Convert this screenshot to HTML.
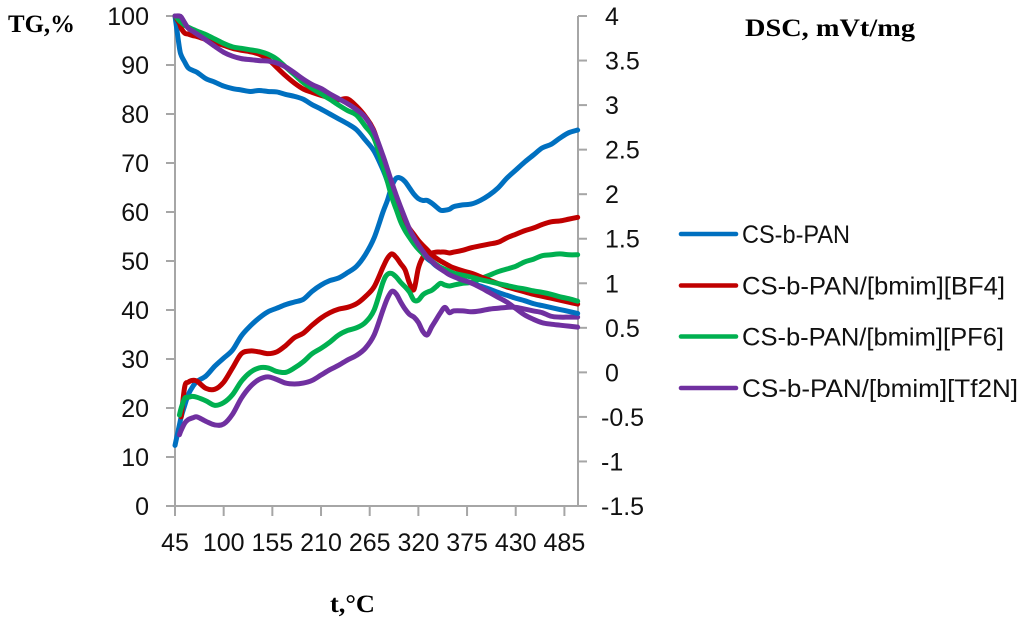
<!DOCTYPE html>
<html>
<head>
<meta charset="utf-8">
<style>
html,body{margin:0;padding:0;background:#fff;}
svg{display:block;}
.tick{font-family:"Liberation Sans",sans-serif;font-size:25px;fill:#111;}
.title{font-family:"Liberation Serif",serif;font-size:25px;font-weight:bold;fill:#000;}
.leg{font-family:"Liberation Sans",sans-serif;font-size:25px;fill:#111;}
</style>
</head>
<body>
<svg id="chart" width="1024" height="623" viewBox="0 0 1024 623" xmlns="http://www.w3.org/2000/svg">
  <text class="title" x="8" y="32" textLength="67" lengthAdjust="spacingAndGlyphs">TG,%</text>
  <text class="title" x="745" y="36" textLength="170" lengthAdjust="spacingAndGlyphs">DSC, mVt/mg</text>
  <text class="title" x="330" y="612" textLength="45" lengthAdjust="spacingAndGlyphs">t,°C</text>
  <g id="axes"></g>
  <g id="series"></g>
  <g id="legend"></g>
</svg>
<script>
const temperatures = [45,50,52,56,60,65,70,80,90,100,110,120,130,140,150,160,170,180,190,200,210,220,230,240,250,260,270,280,285,290,295,300,305,310,315,320,325,330,335,340,345,350,355,360,370,380,390,400,410,420,430,440,450,460,470,480,490,500];
const xTickLabels = [45,100,155,210,265,320,375,430,485];
const tgTickLabels = [0,10,20,30,40,50,60,70,80,90,100];
const dscTickLabels = [-1.5,-1,-0.5,0,0.5,1,1.5,2,2.5,3,3.5,4];
const seriesNames = ["CS-b-PAN","CS-b-PAN/[bmim][BF4]","CS-b-PAN/[bmim][PF6]","CS-b-PAN/[bmim][Tf2N]"];

const tgBlue = [100,93.5,92,90.6,89.4,88.9,88.5,87.2,86.5,85.7,85.2,84.9,84.6,84.8,84.6,84.5,84,83.6,83,81.9,81,80,79,78,76.8,74.7,72.4,68.6,66.3,64,62,60,58.2,56.4,54.8,53,51.6,50.5,49.8,49,48.4,47.9,47.4,47,46.2,45.5,44.9,44.3,43.6,43,42.4,41.9,41.3,40.9,40.5,40.1,39.7,39.3];
const tgRed = [100,98.5,97.5,96.5,96.3,96,95.8,95.2,94.6,94,93.4,93,92.7,92.2,91.2,89.5,87.8,86.3,85.1,84.4,83.8,83.3,82.9,83.1,81.6,79.5,76.5,70.5,67,64,62,59.6,58,56.6,55.4,54.2,53.2,52.3,51.3,50.6,50,49.5,49,48.6,48,47.5,46.8,46.1,45.4,44.7,44.2,43.7,43.2,42.8,42.4,42,41.6,41.2];
const tgGreen = [100,99,98.7,98.1,97.7,97.3,96.9,96.2,95.3,94.4,93.7,93.4,93.1,92.8,92.2,91.2,89.6,88,86.4,85.2,84.1,83,81.8,80.7,79.8,77.5,75,69.3,66.2,63,60.5,58,56.2,54.8,53.5,52.4,51.5,50.7,50,49.3,48.7,48.3,47.9,47.5,47.1,46.7,46.2,45.8,45.4,45,44.6,44.3,43.9,43.6,43.2,42.7,42.3,41.8];
const tgPurple = [100,100,99.8,98.6,97.5,96.9,96.3,95.1,93.8,92.6,91.8,91.3,91.1,90.9,90.8,90.4,89.6,88.4,87.1,86,85.2,84.1,83.1,82.1,80.9,79.3,76.3,71.5,68.8,66,63.4,61,58.7,56.5,54.8,53.3,52,50.8,50,49.1,48.4,47.8,47.2,46.8,46.1,45.5,44.6,43.6,42.6,41.6,40.3,39,38.1,37.4,37.1,36.9,36.7,36.5];

const dscBlue = [-0.82,-0.59,-0.50,-0.37,-0.25,-0.16,-0.10,-0.04,0.07,0.16,0.25,0.41,0.52,0.61,0.68,0.72,0.76,0.79,0.82,0.91,0.98,1.03,1.06,1.12,1.19,1.32,1.51,1.80,1.93,2.09,2.18,2.18,2.14,2.07,2.00,1.95,1.93,1.93,1.90,1.86,1.82,1.82,1.83,1.86,1.88,1.89,1.93,1.99,2.07,2.18,2.27,2.36,2.44,2.52,2.56,2.63,2.69,2.72];
const dscRed = [null,null,-0.50,-0.16,-0.11,-0.09,-0.10,-0.18,-0.19,-0.11,0.05,0.21,0.24,0.23,0.21,0.23,0.30,0.39,0.44,0.53,0.61,0.67,0.71,0.73,0.77,0.85,0.96,1.18,1.28,1.33,1.29,1.22,1.15,1.00,0.93,1.17,1.29,1.33,1.34,1.35,1.35,1.35,1.34,1.35,1.37,1.40,1.42,1.44,1.46,1.51,1.55,1.59,1.62,1.66,1.69,1.70,1.72,1.74];
const dscGreen = [null,-0.48,-0.40,-0.29,-0.28,-0.27,-0.28,-0.32,-0.37,-0.34,-0.25,-0.10,0.00,0.05,0.05,0.01,0.00,0.05,0.12,0.21,0.27,0.34,0.42,0.47,0.50,0.56,0.70,1.01,1.10,1.11,1.07,1.01,0.96,0.90,0.81,0.81,0.87,0.90,0.92,0.96,1.00,0.98,0.97,0.98,1.00,1.01,1.05,1.09,1.13,1.16,1.19,1.24,1.27,1.31,1.32,1.33,1.32,1.32];
const dscPurple = [null,-0.70,-0.65,-0.57,-0.53,-0.51,-0.50,-0.55,-0.59,-0.58,-0.47,-0.29,-0.16,-0.08,-0.05,-0.08,-0.12,-0.13,-0.12,-0.09,-0.03,0.03,0.08,0.14,0.19,0.27,0.42,0.70,0.83,0.91,0.88,0.79,0.71,0.65,0.62,0.56,0.46,0.42,0.51,0.59,0.67,0.73,0.67,0.69,0.69,0.68,0.69,0.71,0.72,0.73,0.73,0.71,0.69,0.67,0.63,0.62,0.62,0.62];

const NS = "http://www.w3.org/2000/svg";
const axisColor = "#a6a6a6";
const colorBlue = "#0070c0", colorRed = "#c00000", colorGreen = "#00b050", colorPurple = "#7030a0";
const colors = [colorBlue, colorRed, colorGreen, colorPurple];

function xScale(t){ return 175 + (t - 45) * 0.885; }
function tgScale(v){ return 506 - v * 4.9; }
function dscScale(v){ return 506 - (v + 1.5) * 89.09; }

function mk(tag, attrs, parent){
  const el = document.createElementNS(NS, tag);
  for (const k in attrs) el.setAttribute(k, attrs[k]);
  parent.appendChild(el);
  return el;
}

const axes = document.getElementById("axes");
const seriesG = document.getElementById("series");
const legend = document.getElementById("legend");
const axisStyle = {stroke: axisColor, "stroke-width": 2, fill: "none"};

const leftAxis = mk("line", Object.assign({x1:175, y1:tgScale(100), x2:175, y2:tgScale(0)}, axisStyle), axes);


const rightAxis = mk("line", Object.assign({x1:578, y1:dscScale(4), x2:578, y2:dscScale(-1.5)}, axisStyle), axes);


const bottomAxis = mk("line", Object.assign({x1:175, y1:506, x2:578, y2:506}, axisStyle), axes);



tgTickLabels.forEach(function(v){
  const y = tgScale(v);
  const tick = mk("line", Object.assign({x1:166, y1:y, x2:175, y2:y}, axisStyle), axes);
  
  
  const label = mk("text", {class:"tick", x:149, y:y + 9, "text-anchor":"end"}, axes);
  
  
  label.textContent = v;
});

dscTickLabels.forEach(function(v){
  const y = dscScale(v);
  const tick = mk("line", Object.assign({x1:578, y1:y, x2:587, y2:y}, axisStyle), axes);
  
  
  const label = mk("text", {class:"tick", x: v < 0 ? 601 : 605, y:y + 9}, axes);
  
  
  label.textContent = v;
});

xTickLabels.forEach(function(v){
  const x = xScale(v);
  const tick = mk("line", Object.assign({x1:x, y1:506, x2:x, y2:516}, axisStyle), axes);
  
  
  const label = mk("text", {class:"tick", x:x, y:551, "text-anchor":"middle"}, axes);
  
  
  label.textContent = v;
});

function smoothPath(values, yScale){
  const pts = [];
  temperatures.forEach(function(t, i){
    if (values[i] !== null) pts.push([xScale(t), yScale(values[i])]);
  });
  let d = "M" + pts[0][0].toFixed(2) + " " + pts[0][1].toFixed(2);
  for (let i = 0; i < pts.length - 1; i++){
    const p0 = pts[Math.max(i - 1, 0)], p1 = pts[i], p2 = pts[i + 1], p3 = pts[Math.min(i + 2, pts.length - 1)];
    const c1x = p1[0] + (p2[0] - p0[0]) / 6, c1y = p1[1] + (p2[1] - p0[1]) / 6;
    const c2x = p2[0] - (p3[0] - p1[0]) / 6, c2y = p2[1] - (p3[1] - p1[1]) / 6;
    d += "C" + c1x.toFixed(2) + " " + c1y.toFixed(2) + " " + c2x.toFixed(2) + " " + c2y.toFixed(2) + " " + p2[0].toFixed(2) + " " + p2[1].toFixed(2);
  }
  return d;
}

const tgSeries = [tgBlue, tgRed, tgGreen, tgPurple];
const dscSeries = [dscBlue, dscRed, dscGreen, dscPurple];
const lineStyle = {fill:"none", "stroke-width":5, "stroke-linejoin":"round", "stroke-linecap":"round"};

dscSeries.forEach(function(vals, i){
  const line = mk("path", Object.assign({d:smoothPath(vals, dscScale), stroke:colors[i]}, lineStyle), seriesG);
  
  
});
tgSeries.forEach(function(vals, i){
  const line = mk("path", Object.assign({d:smoothPath(vals, tgScale), stroke:colors[i]}, lineStyle), seriesG);
  
  
});

const legendRowY = [234, 285.5, 336.5, 388];
const legendTextLengths = [108, 263, 262, 276];
seriesNames.forEach(function(name, i){
  const key = mk("line", {x1:681, y1:legendRowY[i], x2:736, y2:legendRowY[i], stroke:colors[i], "stroke-width":4.6, "stroke-linecap":"round"}, legend);
  
  
  const label = mk("text", {class:"leg", x:742, y:legendRowY[i] + 9, textLength:legendTextLengths[i], lengthAdjust:"spacingAndGlyphs"}, legend);
  
  
  label.textContent = name;
});
</script>
</body>
</html>
